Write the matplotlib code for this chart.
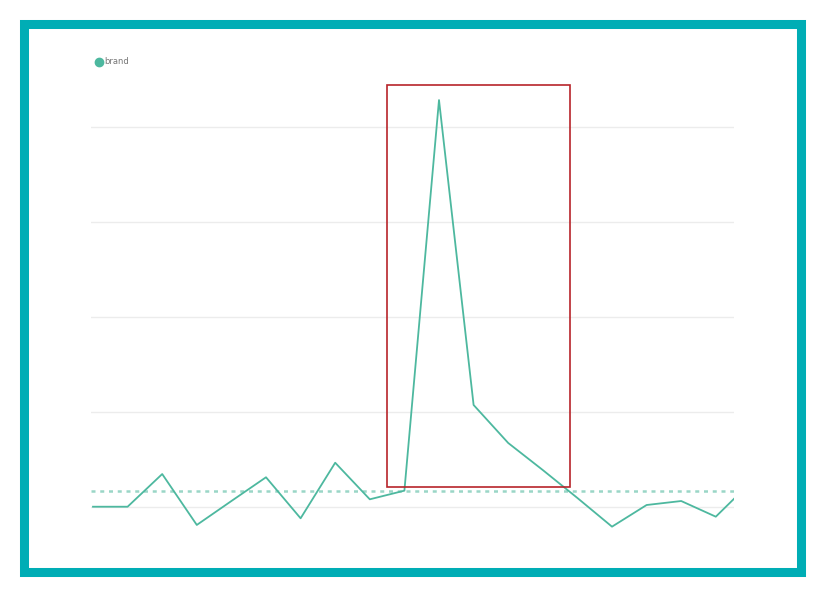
import matplotlib
matplotlib.use("Agg")
import matplotlib.pyplot as plt
from matplotlib.patches import Rectangle
from matplotlib.lines import Line2D

### Data (arbitrary units, no tick labels in the source)
brand = [100.3, 100.3, 134.7, 81.1, 106.3, 131.3, 88.1, 146.6, 108.1, 117.2,
         528.4, 207.4, 167.4, 138.9, 109.5, 79.3, 102.1, 106.3, 89.8, 125.6]
baseline = 116.8
grid_values = [100, 200, 300, 400, 500]
highlight_x = [8.5, 13.79]
highlight_y = [121.1, 544.2]

### Colours
line_c = "#4db89f"
base_c = "#9ad6c7"
frame_c = "#00adb5"
box_c = "#b8242a"
grid_c = "#ececec"

fig = plt.figure(figsize=(8.24, 6.02), dpi=100)
W, H = 824.0, 602.0

# teal frame around everything
fig.add_artist(Rectangle((24/W, 1-572/H), (801-24)/W, (572-24)/H,
                         transform=fig.transFigure, fill=False,
                         edgecolor=frame_c, linewidth=6.5))

ax = fig.add_axes([91/W, 1-545/H, (734-91)/W, 465/H])
x = list(range(len(brand)))

for g in grid_values:
	ax.axhline(g, color=grid_c, linewidth=1.0, zorder=0)

ax.axhline(baseline, color=base_c, linewidth=1.8, linestyle=(0, (1.6, 1.9)), zorder=1)
ax.plot(x, brand, color=line_c, linewidth=1.3, zorder=2)

ax.add_patch(Rectangle((highlight_x[0], highlight_y[0]), highlight_x[1]-highlight_x[0],
                       highlight_y[1]-highlight_y[0], fill=False,
                       edgecolor=box_c, linewidth=1.2, zorder=3, clip_on=False))

ax.set_xlim(-2/34.6, (734-93)/34.6)
ax.set_ylim(60, 549.5)
ax.set_xticks([])
ax.set_yticks([])
for s in ax.spines.values():
	s.set_visible(False)

# legend
fig.add_artist(Line2D([99/W], [1-61.5/H], marker='o', markersize=6, color=line_c,
                      linestyle='none', transform=fig.transFigure))
fig.text(104.5/W, 1-61.5/H, "brand", fontsize=6, color="#777777", va='center', ha='left')

fig.savefig("out.png", dpi=100, facecolor="white")
